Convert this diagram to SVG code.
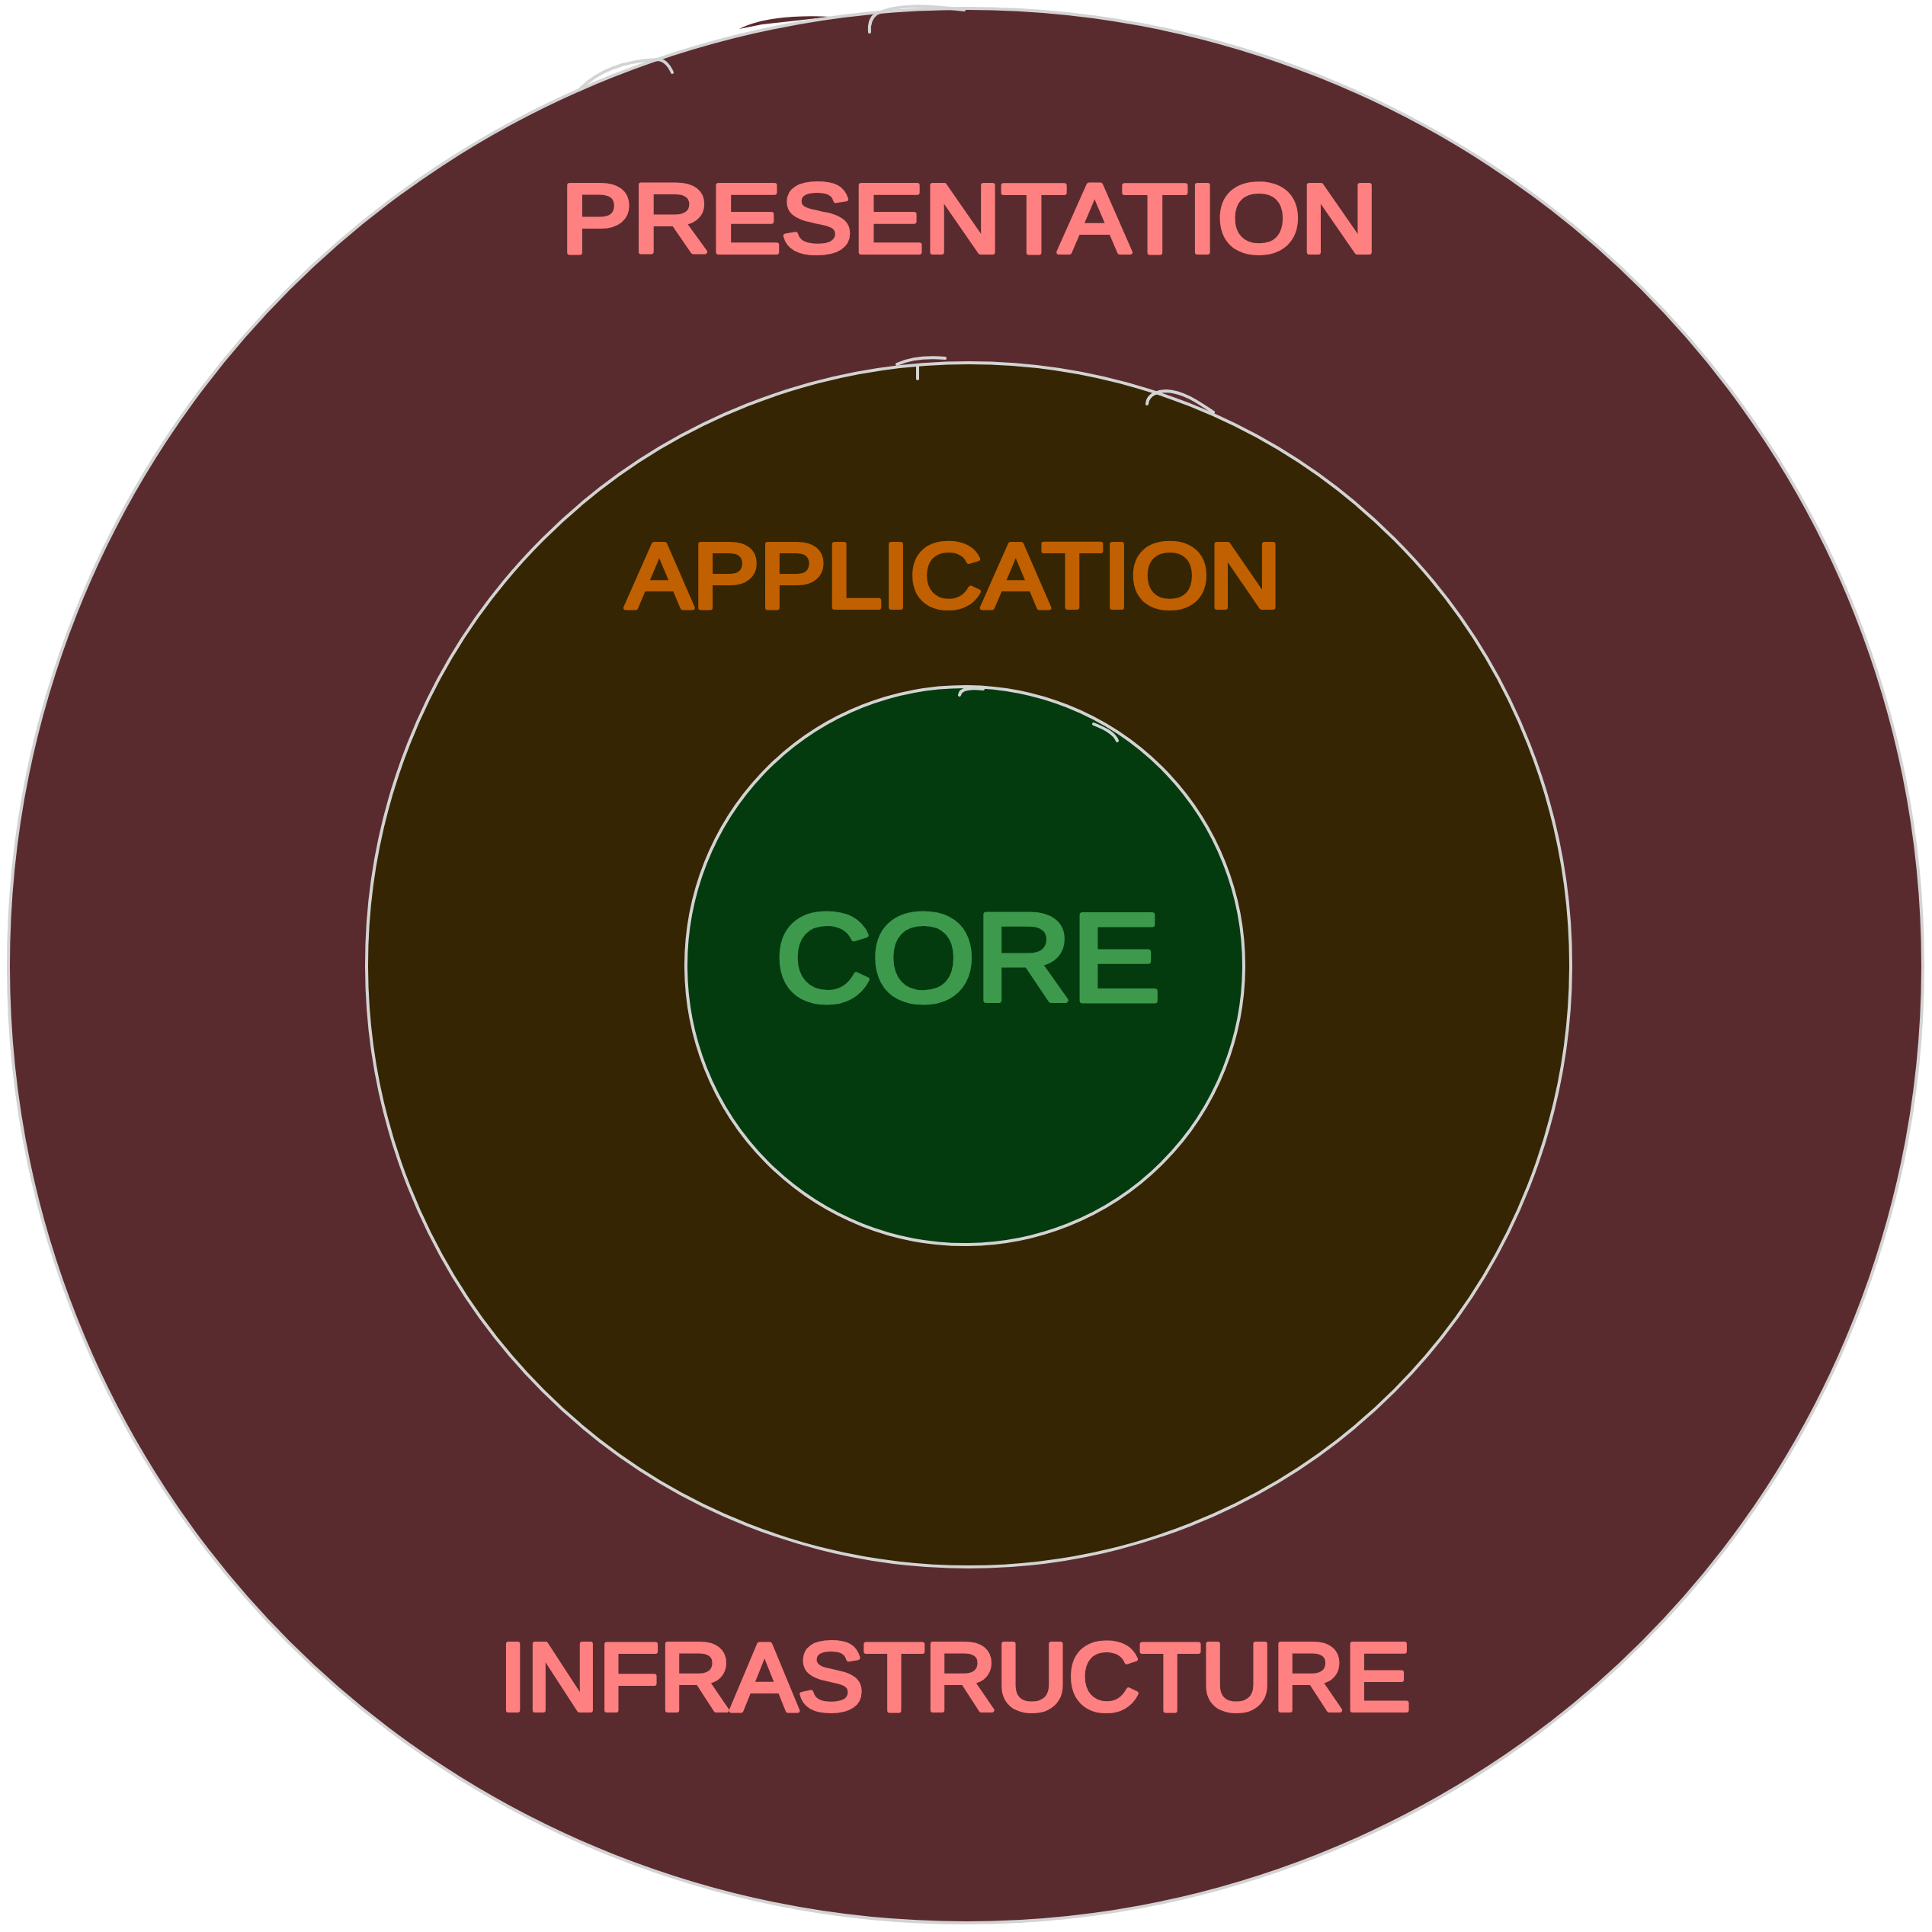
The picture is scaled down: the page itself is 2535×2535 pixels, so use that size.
<svg xmlns="http://www.w3.org/2000/svg" width="2535" height="2535" viewBox="0 0 2535 2535">
<style>
.ring{stroke:#d3d3d3;stroke-width:4;stroke-linecap:round;stroke-linejoin:round}
.sk{fill:none;stroke:#d3d3d3;stroke-width:4;stroke-linecap:round}
.lbl{font-family:"Liberation Sans","DejaVu Sans",sans-serif;text-anchor:middle;stroke-linejoin:round}
</style>
<rect width="2535" height="2535" fill="#ffffff"/>
<g id="infrastructure">
<path d="M970,38 C1000,22 1050,20 1090,22 L1000,32 Z" fill="#5a2b2e"/>
<circle class="ring" cx="1267" cy="1267" r="1256" fill="#5a2b2e"/>
<path class="sk" d="M760,118 C785,92 820,80 862,78 C872,78 878,86 882,95"/>
<path class="sk" d="M1141,42 C1140,30 1144,22 1150,18 C1175,6 1210,6 1265,13"/>
<text class="lbl" x="1272" y="331" font-size="128" fill="#ff8080" stroke="#ff8080" stroke-width="6" textLength="1072" lengthAdjust="spacingAndGlyphs">PRESENTATION</text>
<text class="lbl" x="1253" y="2244" font-size="127" fill="#ff8080" stroke="#ff8080" stroke-width="6" textLength="1196" lengthAdjust="spacingAndGlyphs">INFRASTRUCTURE</text>
</g>
<g id="application">
<circle class="ring" cx="1271" cy="1266" r="790" fill="#352503"/>
<path class="sk" d="M1177,478 C1195,470 1215,468 1240,470"/>
<path class="sk" d="M1204,480 L1204,497"/>
<path class="sk" d="M1505,530 C1506,520 1514,514 1530,513 C1552,514 1570,526 1592,541"/>
<text class="lbl" x="1251" y="797" font-size="120" fill="#c06000" stroke="#c06000" stroke-width="6" textLength="860" lengthAdjust="spacingAndGlyphs">APPLICATION</text>
</g>
<g id="core">
<circle class="ring" cx="1266" cy="1267" r="366" fill="#033b0e"/>
<path class="sk" d="M1259,912 C1260,904 1270,902 1290,904"/>
<path class="sk" d="M1435,950 C1450,956 1462,962 1466,972"/>
<text class="lbl" x="1270" y="1313" font-size="163" fill="#3d9a4d" stroke="#3d9a4d" stroke-width="7" textLength="505" lengthAdjust="spacingAndGlyphs">CORE</text>
</g>
<g id="connectors"/>
</svg>
